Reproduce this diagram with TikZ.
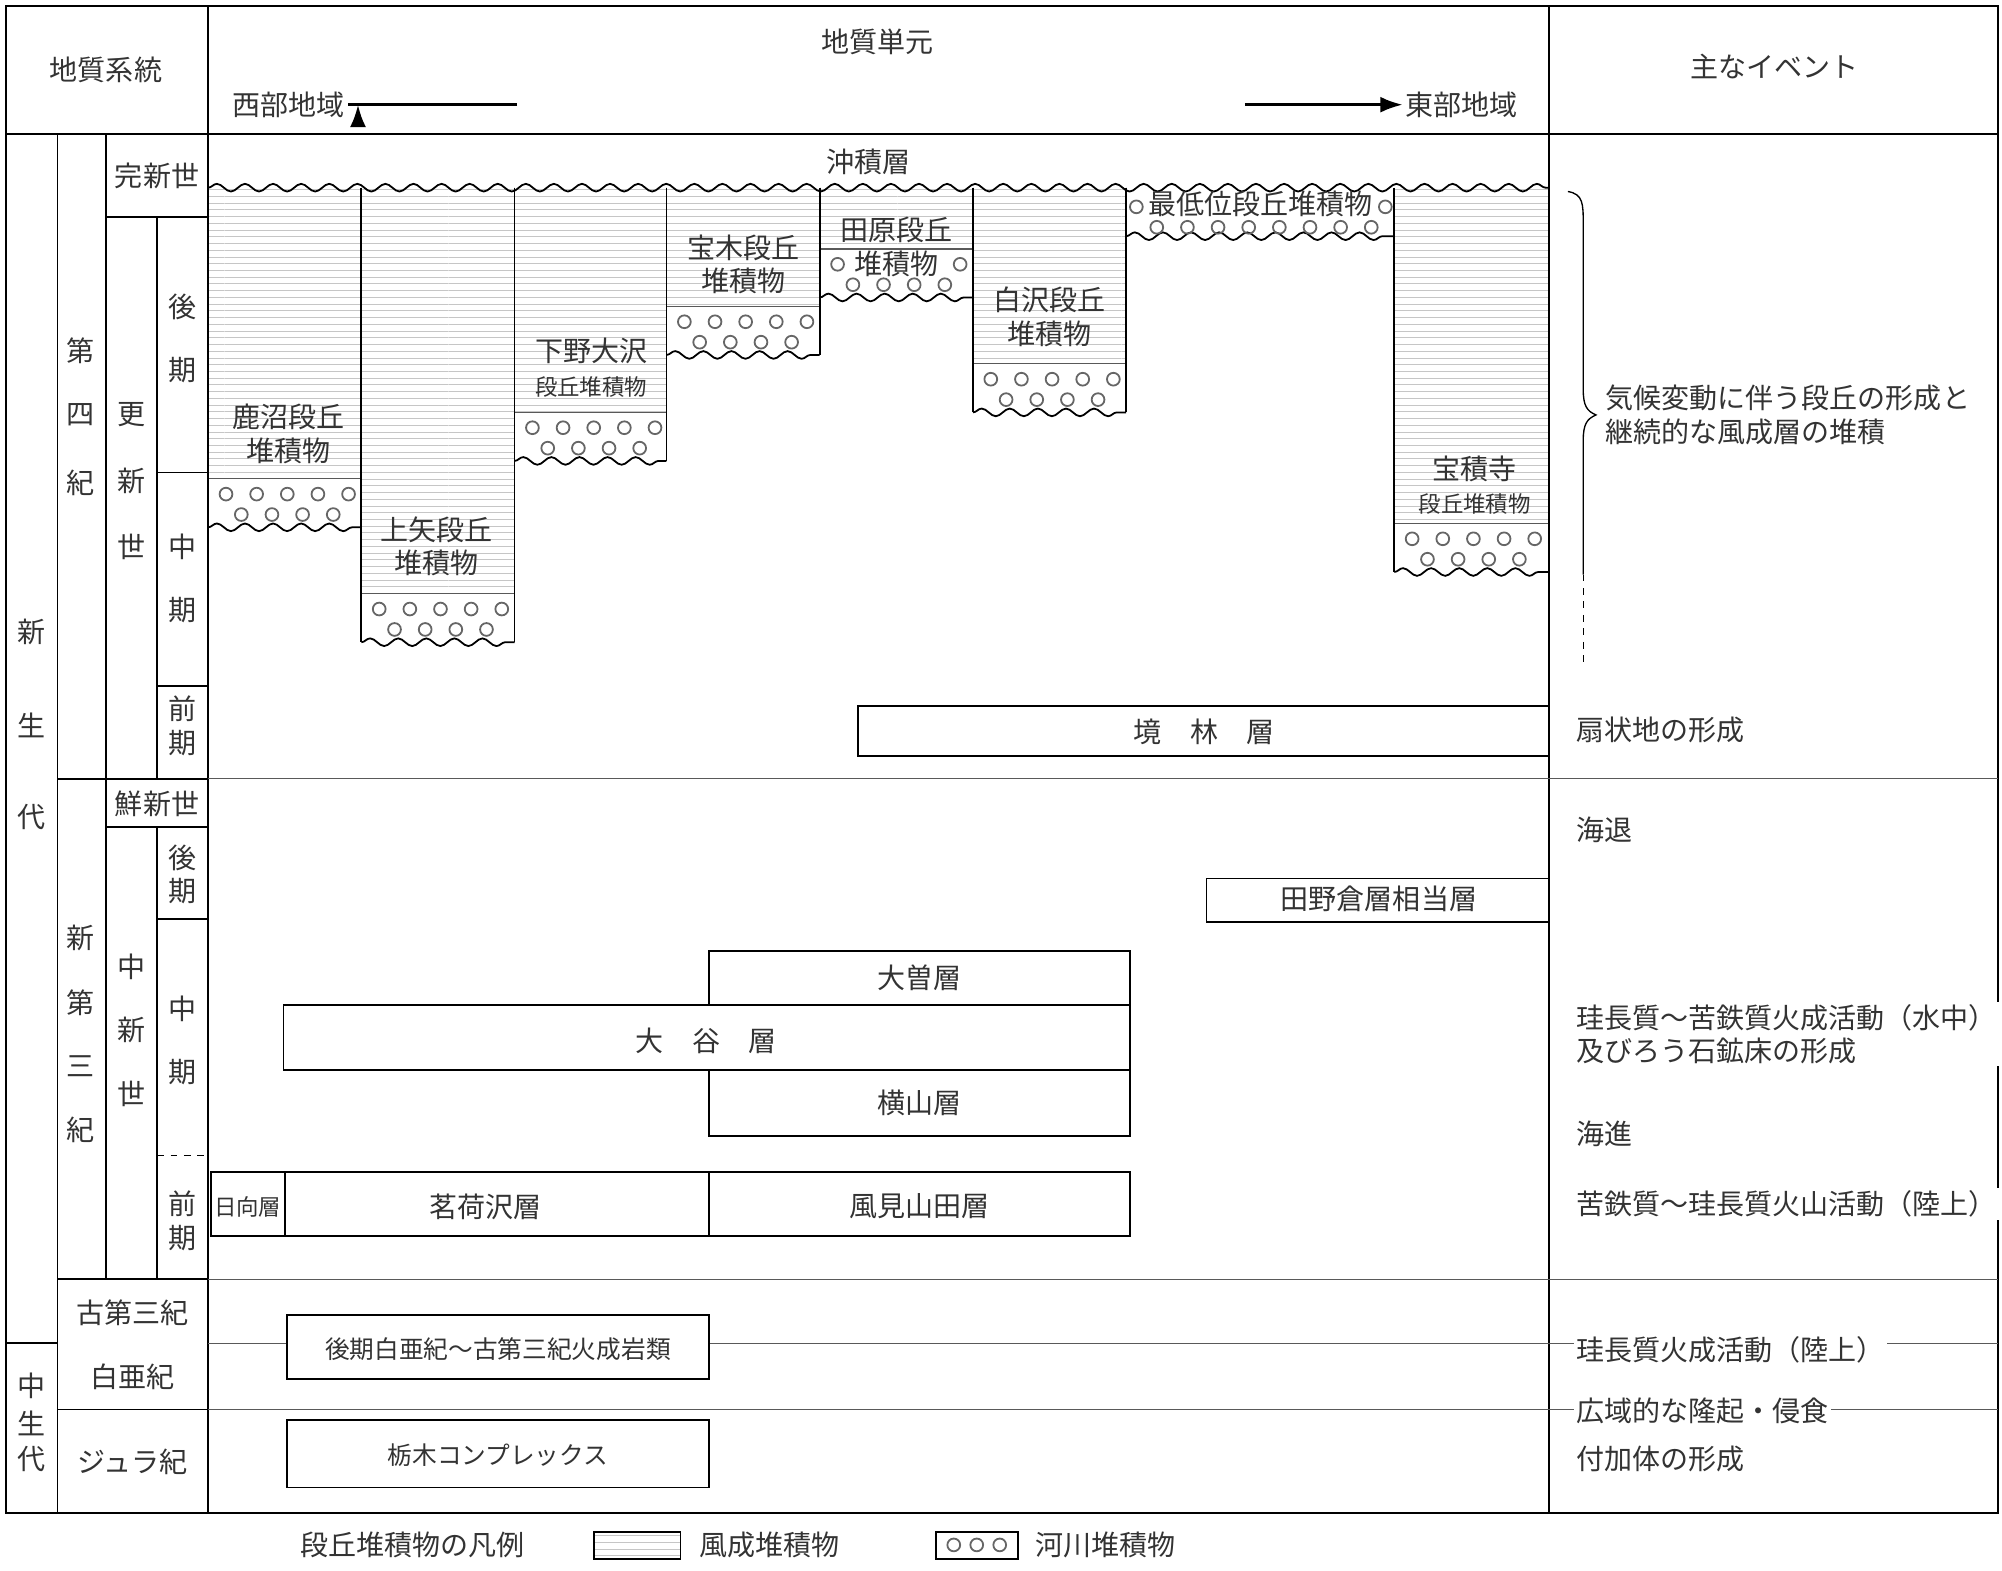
\documentclass[tikz,border=0pt]{standalone}
\usepackage{fontspec}
\newfontfamily\jp{Noto Sans CJK JP}
\usetikzlibrary{arrows.meta, patterns, decorations.pathmorphing}

% gravel: two staggered rows of pebbles
\newcommand{\gravel}[2]{%
  \foreach \i in {0,...,4} {\draw[gray!80!black, thick] (#1+14+\i*24, #2+12) circle[radius=0.1cm];}
  \foreach \i in {0,...,3} {\draw[gray!80!black, thick] (#1+26+\i*24, #2+28) circle[radius=0.1cm];}}

\begin{document}
\begin{tikzpicture}[x=0.02cm, y=-0.02cm, line width=0.8pt,
    txt/.style={font=\jp\fontsize{12.5}{15}\selectfont, text=black!80, align=center, inner sep=1pt},
    small/.style={font=\jp\fontsize{10}{12}\selectfont, text=black!80, align=center, inner sep=1pt},
    event/.style={txt, anchor=west, fill=white, align=left},
    wave/.style={decorate, decoration={snake, segment length=0.44cm, amplitude=0.06cm}},
    aeolian/.style={pattern=horizontal lines, pattern color=gray!45},
    thin/.style={line width=0.5pt, gray!70!black},
    arrow/.style={-{Latex[length=3.5mm, width=2.5mm]}, line width=1.3pt}
]
\useasboundingbox (0,0) rectangle (1568,1230);

% Frame and header
\draw (5,5) rectangle (1565,1185);
\draw (5,105) -- (1565,105);
\draw (163,5) -- (163,1185);
\draw (1213,5) -- (1213,1185);
\node[txt] (sys) at (83,55) {地質系統};
\node[txt] (unit) at (687,33) {地質単元};
\node[txt] (west) at (226,82) {西部地域};
\node[txt] (east) at (1145,82) {東部地域};
\node[txt] (events) at (1390,52) {主なイベント};
\coordinate (wstart) at (405,82);
\coordinate (estart) at (975,82);
\draw[arrow] (wstart) -- (west.east) ++(8,0);
\draw[arrow] (estart) -- (east.west);

% Time scale grid
\draw (45,105) -- (45,1185);
\draw (83,105) -- (83,1002);
\draw (123,170) -- (123,610);
\draw (123,648) -- (123,1002);
\draw (45,610) -- (163,610);
\draw (45,1002) -- (163,1002);
\draw (5,1052) -- (45,1052);
\draw (45,1104) -- (163,1104);
\draw (83,170) -- (163,170);
\draw (123,370) -- (163,370);
\draw (123,537) -- (163,537);
\draw (83,648) -- (163,648);
\draw (123,720) -- (163,720);
\draw[dashed] (123,905) -- (163,905);
\draw[thin] (163,610) -- (1213,610);
\draw[thin] (163,1002) -- (1565,1002);
\draw[thin] (163,1052) -- (1565,1052);
\draw[thin] (163,1104) -- (1565,1104);
\draw[thin] (1213,610) -- (1565,610);

% Vertical labels
\foreach \c/\y in {新/495, 生/568, 代/640, 中/1085, 生/1115, 代/1143} \node[txt] at (25,\y) {\c};
\foreach \c/\y in {第/275, 四/325, 紀/378, 新/735, 第/785, 三/835, 紀/885} \node[txt] at (63,\y) {\c};
\foreach \c/\y in {更/325, 新/377, 世/428, 中/757, 新/807, 世/857} \node[txt] at (103,\y) {\c};
\foreach \c/\y in {後/240, 期/290, 中/428, 期/478, 前/555, 期/582, 後/672, 期/698, 中/790, 期/840, 前/943, 期/970} \node[txt] at (143,\y) {\c};
\node[txt] (holo) at (123,138) {完新世};
\node[txt] (plio) at (123,630) {鮮新世};
\node[txt] (paleo) at (104,1028) {古第三紀};
\node[txt] (cret) at (104,1078) {白亜紀};
\node[txt] (jura) at (104,1145) {ジュラ紀};

% Terrace deposits
\foreach \xa/\xb/\yb in {163/283/375, 283/403/465, 403/522/323, 522/642/240, 642/762/195, 762/882/285, 1092/1213/410} {
  \fill[aeolian] (\xa,147) rectangle (\xb,\yb);
  \draw[thin] (\xa,\yb) -- (\xb,\yb);
  \gravel{\xa}{\yb}
  \draw (\xa,147) -- (\xa,\yb+38);
  \draw (\xb,147) -- (\xb,\yb+38);
  \draw[wave] (\xa,\yb+38) -- (\xb,\yb+38);
}
\draw (882,147) -- (882,185);
\draw[wave] (882,185) -- (1092,185);
\foreach \i in {0,...,7} {\draw[gray!80!black, thick] (906+\i*24, 178) circle[radius=0.1cm];}
\draw[gray!80!black, thick] (890,162) circle[radius=0.1cm];
\draw[gray!80!black, thick] (1085,162) circle[radius=0.1cm];
\draw[wave] (163,147) -- (1213,147);
\node[txt] (alluv) at (680,127) {沖積層};
\node[txt] (kanuma) at (226,340) {鹿沼段丘\\堆積物};
\node[txt] (kamiya) at (342,428) {上矢段丘\\堆積物};
\node[txt] (shimono) at (463,275) {下野大沢};
\node[small] (shimono2) at (463,303) {段丘堆積物};
\node[txt] (hoki) at (582,207) {宝木段丘\\堆積物};
\node[txt] (tawara) at (702,180) {田原段丘};
\node[txt, fill=white, inner sep=0pt] (tawara2) at (702,207) {堆積物};
\node[txt] (shira) at (822,248) {白沢段丘\\堆積物};
\node[txt] (lowest) at (987,160) {最低位段丘堆積物};
\node[txt] (hoshaku) at (1155,367) {宝積寺};
\node[small] (hoshaku2) at (1155,395) {段丘堆積物};

% Brace
\draw[line width=0.6pt] (1228,150) .. controls (1240,152) and (1240,160) .. (1240,175) -- (1240,305)
  .. controls (1240,318) and (1243,322) .. (1250,325)
  .. controls (1243,328) and (1240,332) .. (1240,345) -- (1240,450);
\draw[line width=0.6pt, dashed] (1240,450) -- (1240,522);
\node[event] (climate) at (1255,325) {気候変動に伴う段丘の形成と\\継続的な風成層の堆積};

% Neogene and older units
\draw[fill=white] (672,592) -- (672,553) decorate {-- (1213,553)} -- (1213,592) -- cycle;
\node[txt] (sakai) at (943,573) {境　林　層};
\draw[fill=white] (945,722) -- (945,688) decorate {-- (1213,688)} -- (1213,722) -- cycle;
\node[txt] (tanokura) at (1080,704) {田野倉層相当層};
\draw (555,787) -- (555,745) decorate {-- (885,745)} -- (885,787);
\node[txt] (oso) at (720,766) {大曽層};
\draw (555,787) -- (885,787) -- (885,838) -- (555,838);
\draw (222,812) -- (222,787) decorate {-- (555,787)};
\draw (222,812) -- (222,838) decorate {-- (555,838)};
\node[txt] (oya) at (553,815) {大　谷　層};
\draw (555,838) -- (555,890) decorate {-- (885,890)} -- (885,838);
\node[txt] (yokoyama) at (720,864) {横山層};
\draw (165,968) -- (165,918) decorate {-- (223,918)} -- (223,968) -- cycle;
\node[small] (hyuga) at (194,945) {日向層};
\draw (223,968) -- (223,918) decorate {-- (555,918)} -- (555,968) -- cycle;
\node[txt] (myoga) at (380,945) {茗荷沢層};
\draw (555,968) -- (555,918) decorate {-- (885,918)} -- (885,968) -- cycle;
\node[txt] (kazami) at (720,945) {風見山田層};
\draw[fill=white] (225,1030) decorate {-- (555,1030)} -- (555,1080) decorate {-- (225,1080)} -- cycle;
\node[small, font=\jp\fontsize{11}{13}\selectfont] (igneous) at (390,1057) {後期白亜紀～古第三紀火成岩類};
\draw[fill=white] (225,1165) -- (225,1112) decorate {-- (555,1112)} -- (555,1165) -- cycle;
\node[small, font=\jp\fontsize{11}{13}\selectfont] (tochigi) at (390,1140) {栃木コンプレックス};

% Events
\node[event] (fan) at (1232,572) {扇状地の形成};
\node[event] (regress) at (1232,650) {海退};
\node[event] (felsic) at (1232,810) {珪長質～苦鉄質火成活動（水中）\\及びろう石鉱床の形成};
\node[event] (transg) at (1232,888) {海進};
\node[event] (mafic) at (1232,943) {苦鉄質～珪長質火山活動（陸上）};
\node[event] (land) at (1232,1057) {珪長質火成活動（陸上）};
\node[event] (uplift) at (1232,1105) {広域的な隆起・侵食};
\node[event] (accr) at (1232,1143) {付加体の形成};

% Legend
\node[txt] (legend) at (323,1210) {段丘堆積物の凡例};
\draw[aeolian, draw=black] (465,1200) rectangle (533,1221);
\node[txt] (aeol) at (603,1210) {風成堆積物};
\draw (733,1200) rectangle (797,1221);
\foreach \i in {0,1,2} {\draw[gray!80!black, thick] (747+\i*18, 1210) circle[radius=0.1cm];}
\node[txt] (fluv) at (866,1210) {河川堆積物};
\end{tikzpicture}
\end{document}
